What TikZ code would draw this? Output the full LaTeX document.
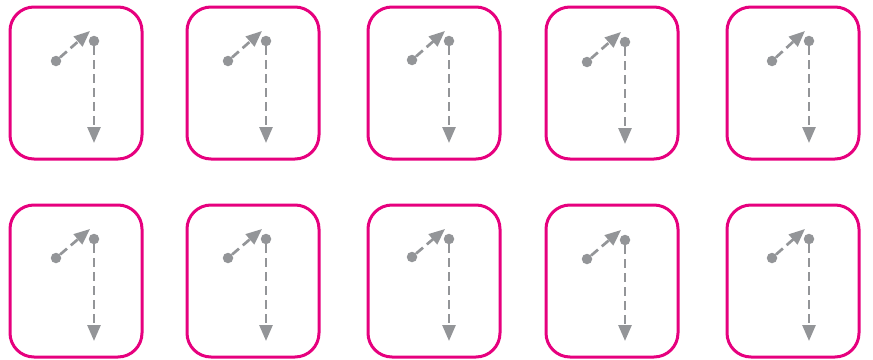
\documentclass[tikz,border=0pt]{standalone}
\usetikzlibrary{arrows.meta}
\definecolor{tilepink}{HTML}{E6007E}
\definecolor{pingray}{HTML}{939598}

\tikzset{
  tile/.style={draw=tilepink, line width=3pt, rounded corners=24pt, minimum width=132pt, minimum height=152pt, inner sep=0pt},
  pin/.style={circle, fill=pingray, inner sep=0pt, minimum size=10.5pt},
  move/.style={draw=pingray, line width=2.7pt, dash pattern=on 9pt off 5pt, -{Triangle[width=13pt,length=16pt]}}
}

\begin{document}
\begin{tikzpicture}[x=1pt,y=-1pt]
    \useasboundingbox (0,0) rectangle (873,359);

    \node[tile] (t1) at (76,83) {};
    \node[pin] (a1) at (56,61) {};
    \node[pin] (b1) at (94,41) {};
    \coordinate (c1) at (90,31);
    \coordinate (d1) at (94,143);
    \draw[move] (a1) -- (c1);
    \draw[move] (b1) -- (d1);

    \node[tile] (t2) at (253,83) {};
    \node[pin] (a2) at (228,61) {};
    \node[pin] (b2) at (266,41) {};
    \coordinate (c2) at (262,31);
    \coordinate (d2) at (266,143);
    \draw[move] (a2) -- (c2);
    \draw[move] (b2) -- (d2);

    \node[tile] (t3) at (434,83) {};
    \node[pin] (a3) at (412,60) {};
    \node[pin] (b3) at (449,41) {};
    \coordinate (c3) at (445,31);
    \coordinate (d3) at (449,143);
    \draw[move] (a3) -- (c3);
    \draw[move] (b3) -- (d3);

    \node[tile] (t4) at (612,83) {};
    \node[pin] (a4) at (587,62) {};
    \node[pin] (b4) at (625,42) {};
    \coordinate (c4) at (621,32);
    \coordinate (d4) at (625,144);
    \draw[move] (a4) -- (c4);
    \draw[move] (b4) -- (d4);

    \node[tile] (t5) at (793,83) {};
    \node[pin] (a5) at (772,61) {};
    \node[pin] (b5) at (809,41) {};
    \coordinate (c5) at (805,31);
    \coordinate (d5) at (809,143);
    \draw[move] (a5) -- (c5);
    \draw[move] (b5) -- (d5);

    \node[tile] (t6) at (76,281) {};
    \node[pin] (a6) at (56,258) {};
    \node[pin] (b6) at (94,239) {};
    \coordinate (c6) at (90,229);
    \coordinate (d6) at (94,341);
    \draw[move] (a6) -- (c6);
    \draw[move] (b6) -- (d6);

    \node[tile] (t7) at (253,281) {};
    \node[pin] (a7) at (228,258) {};
    \node[pin] (b7) at (266,239) {};
    \coordinate (c7) at (262,229);
    \coordinate (d7) at (266,341);
    \draw[move] (a7) -- (c7);
    \draw[move] (b7) -- (d7);

    \node[tile] (t8) at (434,281) {};
    \node[pin] (a8) at (412,257) {};
    \node[pin] (b8) at (449,239) {};
    \coordinate (c8) at (445,229);
    \coordinate (d8) at (449,341);
    \draw[move] (a8) -- (c8);
    \draw[move] (b8) -- (d8);

    \node[tile] (t9) at (612,281) {};
    \node[pin] (a9) at (587,259) {};
    \node[pin] (b9) at (625,240) {};
    \coordinate (c9) at (621,230);
    \coordinate (d9) at (625,341);
    \draw[move] (a9) -- (c9);
    \draw[move] (b9) -- (d9);

    \node[tile] (t10) at (793,281) {};
    \node[pin] (a10) at (772,258) {};
    \node[pin] (b10) at (809,239) {};
    \coordinate (c10) at (805,229);
    \coordinate (d10) at (809,341);
    \draw[move] (a10) -- (c10);
    \draw[move] (b10) -- (d10);
\end{tikzpicture}
\end{document}
